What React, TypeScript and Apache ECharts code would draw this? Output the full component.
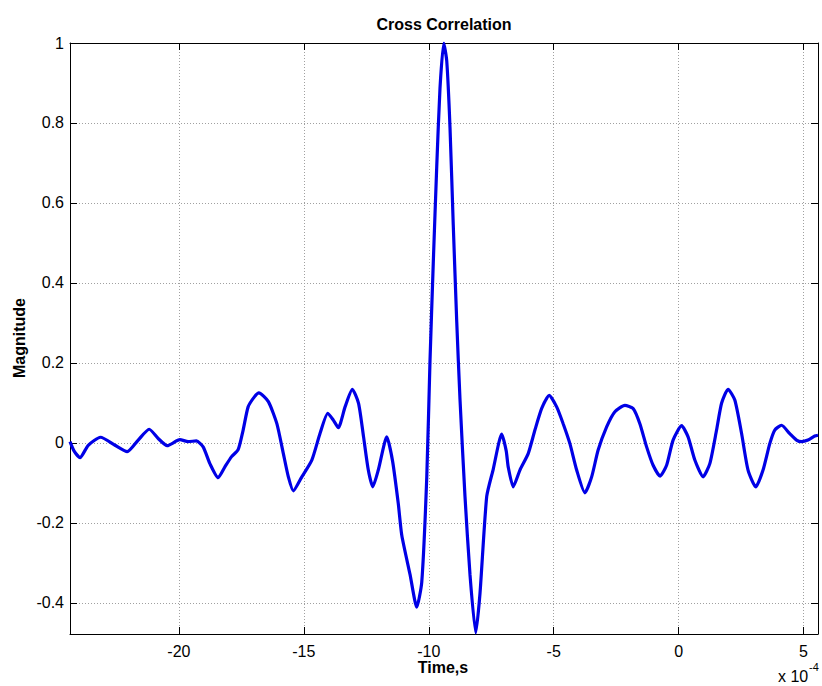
import React, { useEffect, useRef } from "react";
import * as echarts from "echarts";

// Time axis values in units of 1e-4 s
const timeValues: number[] = [
  -24.36, -24.2, -23.96, -23.63, -23.14, -22.56, -22.07, -21.63, -21.19, -20.83,
  -20.47, -19.96, -19.63, -19.3, -19.03, -18.76, -18.43, -18.16, -17.9, -17.63,
  -17.43, -17.23, -16.98, -16.8, -16.42, -16.08, -15.82, -15.62, -15.42, -15.08,
  -14.68, -14.35, -14.04, -13.82, -13.62, -13.35, -13.06, -12.81, -12.61, -12.42,
  -12.24, -12.02, -11.68, -11.45, -11.22, -11.08, -10.75, -10.48, -10.28, -10.08,
  -9.95, -9.82, -9.68, -9.55, -9.4, -9.28, -9.15, -9.02, -8.88, -8.75,
  -8.55, -8.35, -8.12, -7.95, -7.68, -7.42, -7.08, -6.9, -6.82, -6.62,
  -6.35, -6.02, -5.75, -5.48, -5.18, -4.88, -4.62, -4.35, -4.08, -3.75,
  -3.48, -3.22, -2.88, -2.55, -2.15, -1.82, -1.55, -1.28, -1.02, -0.74,
  -0.48, -0.22, 0.12, 0.38, 0.65, 0.98, 1.25, 1.52, 1.72, 1.98,
  2.25, 2.52, 2.78, 3.09, 3.38, 3.65, 3.85, 4.12, 4.45, 4.72,
  4.92, 5.18, 5.45, 5.58,
];

const magnitudeValues: number[] = [
  0.003, -0.02, -0.037, -0.006, 0.014, -0.006, -0.022, 0.007, 0.034, 0.011,
  -0.007, 0.008, 0.003, 0.005, -0.01, -0.052, -0.087, -0.06, -0.035, -0.017,
  0.032, 0.09, 0.115, 0.125, 0.103, 0.048, -0.027, -0.085, -0.12, -0.085,
  -0.043, 0.024, 0.074, 0.057, 0.038, 0.09, 0.134, 0.099, 0.015, -0.068,
  -0.11, -0.068, 0.015, -0.045, -0.152, -0.231, -0.329, -0.411, -0.348, -0.086,
  0.206, 0.449, 0.692, 0.887, 1.0, 0.955, 0.789, 0.546, 0.303, 0.109,
  -0.134, -0.329, -0.475, -0.377, -0.134, -0.066, 0.022, -0.02, -0.06, -0.11,
  -0.068, -0.027, 0.032, 0.086, 0.119, 0.09, 0.048, -0.002, -0.068, -0.125,
  -0.085, -0.018, 0.04, 0.078, 0.094, 0.086, 0.048, -0.01, -0.056, -0.083,
  -0.056, 0.007, 0.043, 0.015, -0.043, -0.085, -0.052, 0.032, 0.099, 0.134,
  0.107, 0.024, -0.068, -0.11, -0.068, -0.002, 0.032, 0.044, 0.023, 0.007,
  0.003, 0.007, 0.017, 0.019,
];

const X_MIN = -24.36;
const X_MAX = 5.58;
const Y_MIN = -0.478;
const Y_MAX = 1;

const FONT = '"Liberation Sans", Arial, sans-serif';

export default function App() {
  const ref = useRef<HTMLDivElement>(null);

  useEffect(() => {
    if (!ref.current) return;
    const chart = echarts.init(ref.current, undefined, { renderer: "svg" });
    const data = timeValues.map((t, i) => [t, magnitudeValues[i]]);

    const isMultiple = (v: number, step: number) =>
      Math.abs(v / step - Math.round(v / step)) < 1e-6;

    const gridLine = {
      show: true,
      lineStyle: { color: "#a0a0a0", type: [1, 2] as any, width: 1 },
    };
    const axisLine = { show: true, onZero: false, lineStyle: { color: "#000", width: 1 } };

    chart.setOption({
      animation: false,
      backgroundColor: "#fff",
      grid: { left: 70, right: 4, top: 43, bottom: 52, containLabel: false },
      xAxis: [
        {
          type: "value",
          min: X_MIN,
          max: X_MAX,
          splitNumber: 6,
          axisLine,
          axisTick: { show: true, inside: true, length: 7, lineStyle: { color: "#000" } },
          axisLabel: {
            color: "#000",
            fontFamily: FONT,
            fontSize: 16,
            margin: 9,
            showMinLabel: true,
            showMaxLabel: true,
            formatter: (v: number) => (isMultiple(v, 5) ? String(Math.round(v)) : ""),
          },
          splitLine: gridLine,
        },
        {
          type: "value",
          position: "top",
          min: X_MIN,
          max: X_MAX,
          splitNumber: 6,
          axisLine,
          axisTick: { show: true, inside: true, length: 7, lineStyle: { color: "#000" } },
          axisLabel: { show: false },
          splitLine: { show: false },
        },
      ],
      yAxis: [
        {
          type: "value",
          min: Y_MIN,
          max: Y_MAX,
          splitNumber: 7,
          axisLine,
          axisTick: { show: true, inside: true, length: 7, lineStyle: { color: "#000" } },
          axisLabel: {
            color: "#000",
            fontFamily: FONT,
            fontSize: 16,
            margin: 6,
            formatter: (v: number) => {
              if (!isMultiple(v, 0.2)) return "";
              const r = Math.round(v * 10) / 10;
              return r === 0 ? "0" : String(r);
            },
          },
          splitLine: gridLine,
        },
        {
          type: "value",
          position: "right",
          min: Y_MIN,
          max: Y_MAX,
          splitNumber: 7,
          axisLine,
          axisTick: { show: true, inside: true, length: 7, lineStyle: { color: "#000" } },
          axisLabel: { show: false },
          splitLine: { show: false },
        },
      ],
      series: [
        {
          type: "line",
          data,
          xAxisIndex: 0,
          yAxisIndex: 0,
          smooth: 0.2,
          symbol: "none",
          lineStyle: { color: "#0000e6", width: 3.2 },
          clip: true,
        },
      ],
      graphic: [
        {
          type: "text",
          x: 444,
          y: 24,
          style: {
            text: "Cross Correlation",
            font: `bold 16px ${FONT}`,
            fill: "#000",
            align: "center",
            verticalAlign: "middle",
          },
        },
        {
          type: "text",
          x: 443,
          y: 667,
          style: {
            text: "Time,s",
            font: `bold 16px ${FONT}`,
            fill: "#000",
            align: "center",
            verticalAlign: "middle",
          },
        },
        {
          type: "text",
          x: 19,
          y: 338,
          rotation: Math.PI / 2,
          style: {
            text: "Magnitude",
            font: `bold 16px ${FONT}`,
            fill: "#000",
            align: "center",
            verticalAlign: "middle",
          },
        },
        {
          type: "text",
          x: 778,
          y: 676,
          style: {
            text: "x 10",
            font: `16px ${FONT}`,
            fill: "#000",
            align: "left",
            verticalAlign: "middle",
          },
        },
        {
          type: "text",
          x: 809,
          y: 667,
          style: {
            text: "-4",
            font: `11px ${FONT}`,
            fill: "#000",
            align: "left",
            verticalAlign: "middle",
          },
        },
      ],
    });

    return () => {
      chart.dispose();
    };
  }, []);

  return (
    <div
      ref={ref}
      style={{ position: "fixed", left: 0, top: 0, width: 822, height: 686, background: "#fff" }}
    />
  );
}
